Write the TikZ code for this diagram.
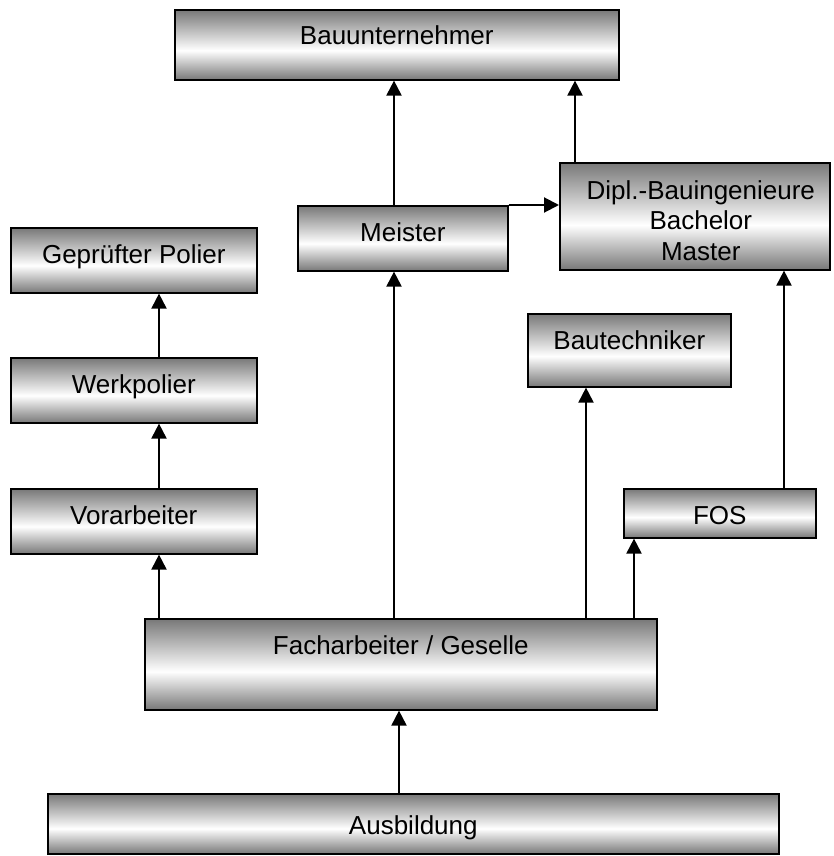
\documentclass[tikz,border=0pt]{standalone}
\usepackage{fontspec}
\setmainfont{Liberation Sans}
\usetikzlibrary{arrows.meta}
\definecolor{shgray}{gray}{0.47}
\pgfdeclareverticalshading{boxshade}{100bp}{color(0bp)=(shgray); color(25bp)=(shgray); color(46bp)=(white); color(75bp)=(shgray); color(100bp)=(shgray)}
\begin{document}
\begin{tikzpicture}[x=1pt,y=-1pt,
  box/.style={draw=black, line width=1.6pt, shading=boxshade, anchor=north west, inner sep=0pt},
  txt/.style={label={[anchor=base, yshift=-36pt, inner sep=0pt, font=\fontsize{26}{30.5}\selectfont]north:#1}},
  arr/.style={line width=2pt, -{Triangle[width=15pt,length=15pt]}}
]
\useasboundingbox (0,0) rectangle (834,856);

\node[box, minimum width=444pt, minimum height=70pt, txt=Bauunternehmer] (bau) at (174,9) {};
\node[box, minimum width=210pt, minimum height=65pt, txt=Meister] (mei) at (297,205) {};
\node[box, minimum width=270pt, minimum height=107pt,
  label={[anchor=north, yshift=-18pt, xshift=6pt, inner sep=0pt, align=center, font=\fontsize{26}{30.5}\selectfont]north:Dipl.-Bauingenieure\\Bachelor\\Master}] (dip) at (559,162) {};
\node[box, minimum width=246pt, minimum height=65pt, txt=Geprüfter Polier] (gep) at (10,227) {};
\node[box, minimum width=246pt, minimum height=65pt, txt=Werkpolier] (wer) at (10,357) {};
\node[box, minimum width=246pt, minimum height=65pt, txt=Vorarbeiter] (vor) at (10,488) {};
\node[box, minimum width=203pt, minimum height=73pt, txt=Bautechniker] (bte) at (527,313) {};
\node[box, minimum width=192pt, minimum height=49pt, txt=FOS] (fos) at (623,488) {};
\node[box, minimum width=512pt, minimum height=91pt, txt=Facharbeiter / Geselle] (fac) at (144,618) {};
\node[box, minimum width=731pt, minimum height=60pt,
  label={[anchor=base, yshift=-41pt, inner sep=0pt, font=\fontsize{26}{30.5}\selectfont]north:Ausbildung}] (aus) at (47,793) {};

\coordinate (xa) at (399,0);
\coordinate (xb) at (159,0);
\coordinate (xc) at (394,0);
\coordinate (xd) at (586,0);
\coordinate (xe) at (634,0);
\coordinate (xf) at (784,0);
\coordinate (xg) at (575,0);

\draw[arr] (aus.north -| xa) -- (fac.south -| xa);
\draw[arr] (fac.north -| xb) -- (vor.south -| xb);
\draw[arr] (vor.north -| xb) -- (wer.south -| xb);
\draw[arr] (wer.north -| xb) -- (gep.south -| xb);
\draw[arr] (fac.north -| xc) -- (mei.south -| xc);
\draw[arr] (mei.north -| xc) -- (bau.south -| xc);
\draw[arr] (fac.north -| xd) -- (bte.south -| xd);
\draw[arr] (fac.north -| xe) -- (fos.south -| xe);
\draw[arr] (fos.north -| xf) -- (dip.south -| xf);
\draw[arr] (dip.north -| xg) -- (bau.south -| xg);
\draw[arr] (mei.north east) -- (mei.north east -| dip.west);
\end{tikzpicture}
\end{document}
